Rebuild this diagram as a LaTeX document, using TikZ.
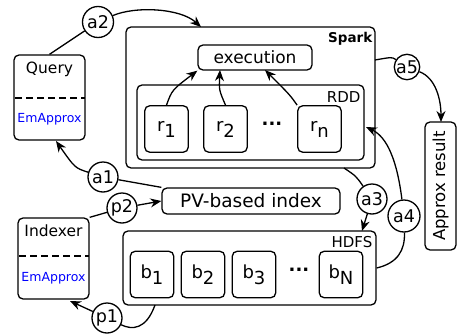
\documentclass[tikz,border=0pt]{standalone}
\usepackage{fontspec}
\setmainfont{DejaVu Sans}
\usetikzlibrary{arrows.meta}
\newcommand{\fs}[1]{\fontsize{#1}{#1}\selectfont}
\newcommand{\sub}[1]{\raisebox{-6pt}{#1}}
\begin{document}
\begin{tikzpicture}[x=1pt,y=-1pt,line width=1.3pt,
  >={Stealth[length=11pt,width=9pt]},
  box/.style={draw,rounded corners=5pt,inner sep=0pt},
  small/.style={box,minimum width=43.5pt,minimum height=46.5pt,font=\fs{18}},
  circ/.style={draw,circle,inner sep=0pt,minimum size=31pt,font=\fs{17.5}},
  lbl/.style={anchor=north east,inner sep=0pt,font=\fs{15}}]
\useasboundingbox (0,0) rectangle (459,335);

% Spark
\node[box,minimum width=249pt,minimum height=141pt] (spark) at (250.5,97.5) {};
\node[anchor=north east,inner sep=0pt,font=\bfseries\fs{13.5}] (sparklbl) at (373,32) {Spark};
\node[box,minimum width=114pt,minimum height=25pt,font=\fs{17}] (exec) at (255,57.5) {execution};
\node[box,minimum width=227pt,minimum height=75pt] (rdd) at (250.5,122.5) {};
\node[lbl] (rddlbl) at (361,91) {RDD};
\node[small] (r1) at (166.5,129) {r\sub{1}};
\node[small] (r2) at (225.5,129) {r\sub{2}};
\node[small] (rn) at (319.5,129) {r\sub{n}};
\node[font=\bfseries\fs{18}] (rdots) at (272,124) {...};

% Query
\node[box,minimum width=71pt,minimum height=85pt] (query) at (49.5,97.5) {};
\node[font=\fs{15.5}] (qtxt) at (49.5,69) {Query};
\draw[dashed,dash pattern=on 7pt off 4pt] (15,98) -- (85,98);
\node[font=\fs{12.5},text=blue] (qem) at (49.5,119) {EmApprox};

% Indexer
\node[box,minimum width=71pt,minimum height=81pt] (indexer) at (53.5,258.5) {};
\node[font=\fs{15.5}] (itxt) at (53.5,231) {Indexer};
\draw[dashed,dash pattern=on 7pt off 4pt] (19,256) -- (89,256);
\node[font=\fs{12.5},text=blue] (iem) at (53.5,278) {EmApprox};

% PV-based index
\node[box,minimum width=178pt,minimum height=26pt,font=\fs{18.5}] (pv) at (251,201) {PV-based index};

% HDFS
\node[box,minimum width=253pt,minimum height=74pt] (hdfs) at (249.5,268) {};
\node[lbl] (hdfslbl) at (373,236) {HDFS};
\node[small] (b1) at (152,274.5) {b\sub{1}};
\node[small] (b2) at (203,274.5) {b\sub{2}};
\node[small] (b3) at (254,274.5) {b\sub{3}};
\node[small] (bN) at (341,274.5) {b\sub{N}};
\node[font=\bfseries\fs{18}] (bdots) at (299,270) {...};

% Approx result
\node[box,rotate=90,minimum width=128pt,minimum height=31pt,font=\fs{16.5}] (approx) at (440.5,186) {Approx result};

% circles
\node[circ] (a2) at (98,22) {a2};
\node[circ,minimum size=30pt] (a1) at (103,177) {a1};
\node[circ,minimum size=30pt] (p2) at (122,208) {p2};
\node[circ,minimum size=30pt] (p1) at (107,318) {p1};
\node[circ,minimum size=30pt] (a3) at (372,199) {a3};
\node[circ,minimum size=32pt] (a4) at (404,216) {a4};
\node[circ,minimum size=24pt] (a5) at (407,67) {a5};

% arrows inside Spark
\draw[->] (r1.north) .. controls (172,90) .. (exec.south west);
\coordinate (e2) at (220,70);
\draw[->] (r2.north) .. controls (219,90) .. (e2);
\coordinate (e3) at (265,70);
\draw[->] (rn.north west) .. controls (290,95) .. (e3);

% connectors
\draw (query.north) -- (a2);
\coordinate (sparkin) at (201,27);
\draw[->] (a2) .. controls (135,6) and (180,8) .. (sparkin);

\draw (a1) -- (pv.north west);
\coordinate (qin) at (56,141);
\draw[->] (a1) .. controls (75,168) .. (qin);

\draw (indexer.north east) -- (p2);
\draw[->] (p2) -- (pv.west);

\coordinate (hdfsout) at (155,305);
\draw (hdfsout) .. controls (146,330) and (132,330) .. (p1);
\coordinate (iin) at (70,301);
\draw[->] (p1) -- (iin);

\coordinate (sparkout3) at (344,168);
\draw (sparkout3) .. controls (356,176) .. (a3);
\coordinate (hdfsin) at (362,231);
\draw[->] (a3) -- (hdfsin);

\draw (hdfs.east) .. controls (398,263) and (405,250) .. (a4);
\coordinate (rddin) at (366,127);
\draw[->] (a4) .. controls (397,160) and (387,137) .. (rddin);

\coordinate (sparkout5) at (375,60);
\draw (sparkout5) .. controls (392,57) .. (a5);
\coordinate (apin) at (441,122);
\draw[->] (a5) .. controls (436,78) and (441,100) .. (apin);
\end{tikzpicture}
\end{document}
